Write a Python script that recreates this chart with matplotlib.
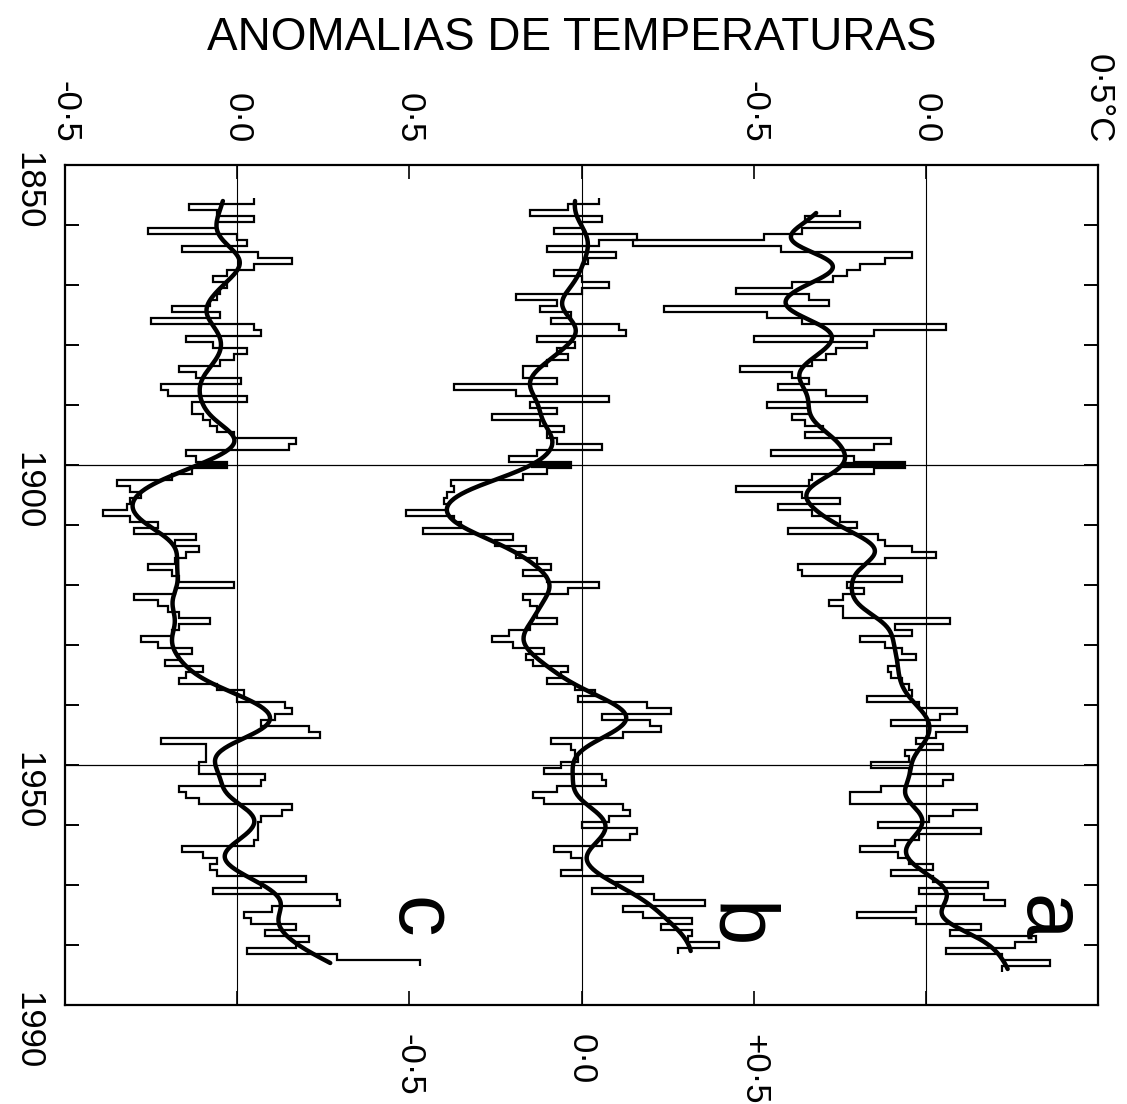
import numpy as np
import matplotlib
matplotlib.use("Agg")
import matplotlib.pyplot as plt

# ---------------- data (annual anomalies, degC) ----------------
years_c = np.arange(1856, 1984)
temp_c = [0.05, -0.14, -0.06, 0.05, -0.06, -0.26, 0.00, 0.03, -0.16, 0.06,
          0.16, 0.05, -0.03, -0.07, -0.03, -0.05, -0.06, -0.08, -0.19, -0.05,
          -0.25, 0.05, 0.07, -0.15, -0.07, 0.03, -0.01, -0.05, -0.17, -0.12,
          0.01, -0.22, -0.20, 0.03, -0.13, -0.13, -0.10, -0.08, -0.06, -0.01,
          0.17, 0.15, -0.15, -0.12, -0.03, -0.13, -0.19, -0.35, -0.31, -0.28,
          -0.31, -0.32, -0.39, -0.31, -0.23, -0.30, -0.12, -0.18, -0.11, -0.15,
          -0.18, -0.26, -0.19, -0.17, -0.01, -0.18, -0.30, -0.23, -0.20, -0.17,
          -0.08, -0.17, -0.19, -0.28, -0.23, -0.13, -0.17, -0.21, -0.10, -0.15,
          -0.17, -0.06, 0.02, 0.00, 0.14, 0.16, 0.11, 0.07, 0.21, 0.24,
          -0.22, -0.09, -0.09, -0.09, -0.11, -0.11, 0.08, 0.07, -0.17, -0.15,
          -0.11, 0.16, 0.13, 0.07, 0.06, 0.06, 0.06, 0.05, -0.16, -0.10,
          -0.06, -0.08, -0.06, 0.20, 0.07, -0.07, 0.29, 0.30, 0.10, 0.02,
          0.04, 0.17, 0.08, 0.21, 0.17, 0.03, 0.29, 0.53]

years_b = np.arange(1856, 1982)
temp_b = [0.05, -0.04, -0.15, 0.06, 0.00, -0.08, 0.16, 0.05, -0.10, 0.10,
          0.02, 0.00, -0.08, 0.00, 0.08, 0.00, -0.19, -0.07, -0.12, -0.03,
          -0.09, 0.11, 0.13, -0.13, -0.02, -0.07, -0.04, -0.10, -0.17, -0.17,
          -0.07, -0.37, -0.19, 0.08, -0.15, -0.07, -0.26, -0.12, -0.05, -0.10,
          -0.07, 0.06, -0.13, -0.21, -0.03, -0.10, -0.17, -0.38, -0.37, -0.39,
          -0.40, -0.39, -0.51, -0.37, -0.35, -0.46, -0.20, -0.25, -0.16, -0.19,
          -0.13, -0.09, -0.17, -0.10, 0.05, -0.04, -0.17, -0.15, -0.13, -0.13,
          -0.07, -0.15, -0.21, -0.26, -0.20, -0.11, -0.16, -0.14, -0.04, -0.06,
          -0.10, -0.02, 0.04, -0.01, 0.19, 0.26, 0.06, 0.20, 0.23, 0.12,
          -0.09, -0.03, -0.02, -0.01, -0.06, -0.11, 0.06, 0.07, -0.07, -0.14,
          -0.11, 0.12, 0.14, 0.08, 0.00, 0.16, 0.14, 0.06, -0.08, -0.03,
          0.00, 0.00, -0.06, 0.18, 0.10, 0.03, 0.21, 0.36, 0.12, 0.18,
          0.32, 0.23, 0.32, 0.31, 0.40, 0.28]

years_a = np.arange(1858, 1985)
temp_a = [-0.25, -0.35, -0.19, -0.36, -0.47, -0.85, -0.42, -0.04, -0.12, -0.19,
          -0.23, -0.27, -0.39, -0.55, -0.34, -0.28, -0.76, -0.46, -0.36, 0.06,
          -0.15, -0.50, -0.17, -0.26, -0.29, -0.33, -0.54, -0.39, -0.34, -0.43,
          -0.29, -0.17, -0.46, -0.34, -0.39, -0.35, -0.30, -0.35, -0.10, -0.15,
          -0.45, -0.21, -0.06, -0.15, -0.33, -0.34, -0.55, -0.36, -0.25, -0.43,
          -0.33, -0.25, -0.20, -0.40, -0.14, -0.12, -0.04, 0.03, -0.12, -0.37,
          -0.36, -0.07, -0.23, -0.18, -0.24, -0.28, -0.24, -0.24, 0.07, -0.09,
          -0.04, -0.19, -0.12, -0.07, -0.03, -0.08, -0.11, -0.10, -0.07, -0.05,
          -0.04, -0.17, -0.02, 0.09, 0.04, -0.10, 0.12, 0.03, -0.03, 0.05,
          -0.06, -0.05, -0.16, -0.05, 0.08, 0.05, -0.13, -0.22, -0.22, 0.15,
          0.08, 0.01, -0.14, 0.16, -0.02, -0.09, -0.19, -0.08, -0.05, 0.02,
          -0.10, 0.02, 0.18, -0.02, 0.17, 0.23, -0.03, -0.20, -0.03, 0.16,
          0.07, 0.32, 0.26, 0.06, 0.22, 0.36, 0.22]

series_names = ["c", "b", "a"]
series_offsets = [0.0, 1.0, 2.0]

year_ticks = [1850, 1900, 1950, 1990]
year_minor = [1860, 1870, 1880, 1890, 1910, 1920, 1930, 1940, 1960, 1970, 1980]
top_tick_pos = [-0.5, 0.0, 0.5, 1.0, 1.5, 2.0, 2.5]
top_tick_lab = ["-0·5", "0·0", "0·5", "", "-0·5", "0·0", "0·5°C"]
bot_tick_pos = [0.0, 0.5, 1.0, 1.5, 2.0]
bot_tick_lab = ["", "-0·5", "0·0", "+0·5", ""]

title = "ANOMALIAS DE TEMPERATURAS"
mark_year = 1900

fam = ["Liberation Sans", "DejaVu Sans"]


def smooth_curve(years, vals, sigma=2.5, step=0.2):
    years = np.asarray(years, float)
    vals = np.asarray(vals, float)
    t = np.arange(years[0], years[-1] + 1e-9, step)
    out = np.empty_like(t)
    for i, ti in enumerate(t):
        w = np.exp(-0.5 * ((years - ti) / sigma) ** 2)
        out[i] = np.sum(w * vals) / np.sum(w)
    return t, out


W, H = 1127, 1104
fig = plt.figure(figsize=(W / 100, H / 100), dpi=100)
L, R, T, B = 65, 1098, 165, 1005
ax = fig.add_axes([L / W, 1 - B / H, (R - L) / W, (B - T) / H])
ax.set_xlim(-0.5, 2.5)
ax.set_ylim(1990, 1850)

for sp in ax.spines.values():
    sp.set_linewidth(1.6)

# grid lines
for x0 in series_offsets:
    ax.axvline(x0, color="black", lw=0.8, zorder=1)
for yy in (1900, 1950):
    ax.axhline(yy, color="black", lw=0.9, zorder=1)

for yrs, vals, off in ((years_c, temp_c, 0.0), (years_b, temp_b, 1.0), (years_a, temp_a, 2.0)):
    v = np.asarray(vals) + off
    edges = np.append(yrs - 0.5, yrs[-1] + 0.5)
    ax.stairs(v, edges, orientation="horizontal", baseline=None,
              color="black", lw=1.6, zorder=3)
    t, s = smooth_curve(yrs, vals)
    ax.plot(s + off, t, color="black", lw=3.2, zorder=4, solid_capstyle="round")
    # heavy mark at 1900 between smoothed and annual value
    i = int(np.argmin(np.abs(t - mark_year)))
    j = int(np.where(yrs == mark_year)[0][0])
    ax.plot([s[i] + off, v[j]], [mark_year, mark_year], color="black",
            lw=4.5, zorder=5, solid_capstyle="butt")

# y ticks (years)
ax.set_yticks(year_ticks)
ax.set_yticks(year_minor, minor=True)
ax.set_yticklabels([str(y) for y in year_ticks], rotation=-90,
                   fontsize=25, family=fam)
ax.tick_params(axis="y", which="both", direction="in", length=10, width=1.4,
               left=True, right=True, pad=15)

# bottom x ticks
ax.set_xticks(bot_tick_pos)
ax.set_xticklabels(bot_tick_lab, rotation=-90, fontsize=25, family=fam)
ax.tick_params(axis="x", which="both", direction="in", length=10, width=1.2,
               top=False, bottom=True, pad=21)

# top x ticks
sec = ax.secondary_xaxis("top")
sec.set_xticks(top_tick_pos)
sec.set_xticklabels(top_tick_lab, rotation=-90, fontsize=25, family=fam)
sec.tick_params(axis="x", direction="in", length=10, width=1.2, pad=16)
sec.spines["top"].set_visible(False)

# series letters
for name, xpix, ypix in (("a", 1046, 918), ("b", 736, 926), ("c", 418, 918)):
    fig.text(xpix / W, 1 - ypix / H, name, rotation=-90, ha="center", va="center",
             fontsize=60, family=fam)

fig.text(572 / W, 1 - 38 / H, title, ha="center", va="center",
         fontsize=33, family=fam)

fig.savefig("out.png", dpi=100)
